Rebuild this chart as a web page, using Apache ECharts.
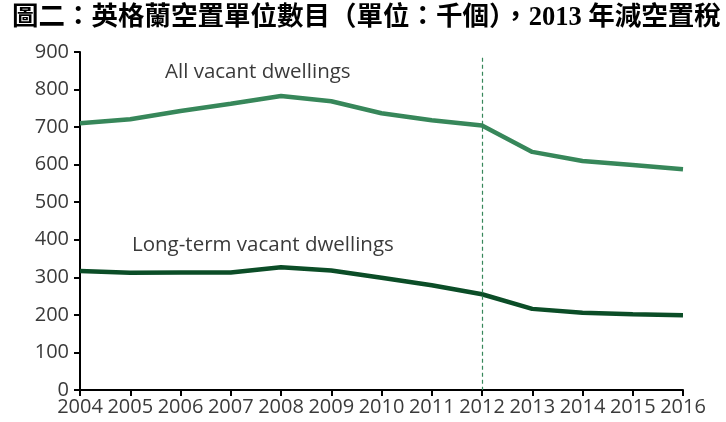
<!DOCTYPE html>
<html>
<head>
<meta charset="utf-8">
<script src="https://cdn.jsdelivr.net/npm/echarts@6/dist/echarts.min.js"></script>
<style>
html,body{margin:0;padding:0;background:#fff;}
#chart{width:726px;height:422px;}
</style>
</head>
<body>
<div id="chart"></div>
<script>
const years = ['2004','2005','2006','2007','2008','2009','2010','2011','2012','2013','2014','2015','2016'];
const allVacant = [710, 721, 743, 762, 783, 769, 737, 718, 704, 634, 610, 599, 588];
const longTermVacant = [317, 312, 313, 313, 327, 318, 299, 279, 255, 216, 206, 202, 199];
const yTicks = [0, 100, 200, 300, 400, 500, 600, 700, 800, 900];
const markYear = '2012';
const titleText = '圖二：英格蘭空置單位數目（單位：千個），2013 年減空置稅';
const labelAll = 'All vacant dwellings';
const labelLong = 'Long-term vacant dwellings';

const chart = echarts.init(document.getElementById('chart'), null, {renderer: 'canvas'});
const axisFont = {fontFamily: '"Open Sans", "Noto Sans", sans-serif', fontSize: 20, color: '#3a3a3a'};
chart.setOption({
  animation: false,
  backgroundColor: '#fff',
  title: {
    text: titleText,
    left: 12, top: 5,
    padding: 0,
    textStyle: {fontFamily: '"Liberation Serif", "Noto Sans CJK TC", serif', fontWeight: 'bold', fontSize: 26.5, color: '#000'}
  },
  grid: {left: 80, right: 43, top: 52, bottom: 32},
  xAxis: {
    type: 'category', data: years, boundaryGap: false,
    axisLine: {lineStyle: {color: '#000', width: 2}},
    axisTick: {show: true, length: 6, interval: 0, lineStyle: {color: '#000', width: 2}},
    axisLabel: Object.assign({margin: 7, interval: 0, hideOverlap: false}, axisFont),
    splitLine: {show: false}
  },
  yAxis: {
    type: 'value', min: yTicks[0], max: yTicks[yTicks.length-1], interval: 100,
    axisLine: {show: true, lineStyle: {color: '#000', width: 2}},
    axisTick: {show: true, length: 6, lineStyle: {color: '#000', width: 2}},
    axisLabel: Object.assign({margin: 11}, axisFont),
    splitLine: {show: false}
  },
  series: [
    {
      name: labelAll, type: 'line', data: allVacant, symbol: 'none',
      lineStyle: {color: '#37875a', width: 4.5}, z: 3,
      markLine: {
        silent: true, symbol: 'none', label: {show: false},
        lineStyle: {color: '#37875a', type: [4, 3], width: 1.2},
        data: [[{coord: [markYear, 885]}, {coord: [markYear, 0]}]]
      }
    },
    {
      name: labelLong, type: 'line', data: longTermVacant, symbol: 'none',
      lineStyle: {color: '#0b4d27', width: 4.5}, z: 3
    }
  ],
  graphic: [
    {type: 'text', left: 165, top: 62, style: {text: labelAll, font: '20.5px "Open Sans", "Noto Sans", sans-serif', fill: '#3a3a3a'}},
    {type: 'text', left: 132, top: 235, style: {text: labelLong, font: '20.5px "Open Sans", "Noto Sans", sans-serif', fill: '#3a3a3a'}}
  ]
});
</script>
</body>
</html>
